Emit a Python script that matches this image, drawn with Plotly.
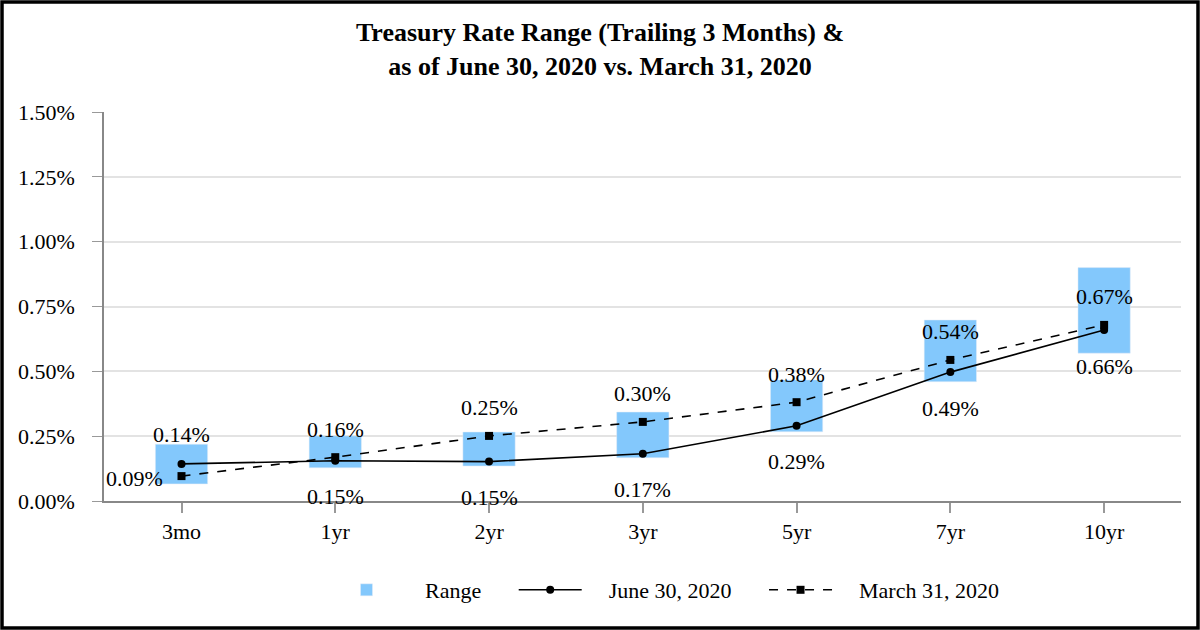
import plotly.graph_objects as go

tenors = ["3mo", "1yr", "2yr", "3yr", "5yr", "7yr", "10yr"]
range_low = [0.066, 0.128, 0.135, 0.167, 0.267, 0.460, 0.570]
range_high = [0.219, 0.251, 0.266, 0.343, 0.467, 0.698, 0.900]
june_2020 = [0.143, 0.155, 0.152, 0.182, 0.290, 0.497, 0.659]
march_2020 = [0.096, 0.169, 0.251, 0.305, 0.381, 0.544, 0.679]
june_labels = ["0.14%", "0.15%", "0.15%", "0.17%", "0.29%", "0.49%", "0.66%"]
march_labels = ["0.09%", "0.16%", "0.25%", "0.30%", "0.38%", "0.54%", "0.67%"]

FONT = "Liberation Serif, Times New Roman, serif"
W, H = 1200, 630
L, R, T, B = 104, 19, 112, 129
pw, ph = W - L - R, H - T - B
sp = "\u00a0"  # non-breaking spaces to pad the legend like the original

fig = go.Figure()
fig.add_trace(go.Bar(
    x=tenors, y=[h - l for h, l in zip(range_high, range_low)], base=range_low,
    name=sp * 4 + "Range" + sp * 5, marker_color="#83c8fc", width=0.34,
))
fig.add_trace(go.Scatter(
    x=tenors, y=june_2020, name=sp * 4 + "June 30, 2020" + sp * 5, mode="lines+markers",
    line=dict(color="black", width=1.6), marker=dict(symbol="circle", size=8),
))
fig.add_trace(go.Scatter(
    x=tenors, y=march_2020, name=sp * 4 + "March 31, 2020", mode="lines+markers",
    line=dict(color="black", width=1.6, dash="dash"), marker=dict(symbol="square", size=8),
))

# data labels: March above, June below (3mo is the odd one out)
for i, t in enumerate(tenors):
    if i == 0:
        fig.add_annotation(x=t, y=june_2020[i], text=june_labels[i], showarrow=False, yshift=29)
        fig.add_annotation(x=t, y=march_2020[i], text=march_labels[i], showarrow=False, xshift=-47, yshift=-2)
    else:
        fig.add_annotation(x=t, y=march_2020[i], text=march_labels[i], showarrow=False, yshift=28)
        fig.add_annotation(x=t, y=june_2020[i], text=june_labels[i], showarrow=False, yshift=-36)

# outer frame
fig.add_shape(type="rect", xref="paper", yref="paper",
              x0=-(L - 2) / pw, x1=1 + (R - 2) / pw, y0=-(B - 2) / ph, y1=1 + (T - 2) / ph,
              line=dict(color="black", width=3.5))

fig.update_layout(
    width=W, height=H,
    margin=dict(l=L, r=R, t=T, b=B),
    paper_bgcolor="white", plot_bgcolor="white",
    font=dict(family=FONT, size=22, color="black"),
    title=dict(text="<b>Treasury Rate Range (Trailing 3 Months) &<br>as of June 30, 2020 vs. March 31, 2020</b>",
               x=0.5, xanchor="center", y=0.935, yanchor="middle", font=dict(size=26)),
    legend=dict(orientation="h", x=(330 - L) / pw, xanchor="left", y=-(590 - 501) / ph, yanchor="middle",
                font=dict(size=22), itemwidth=63, tracegroupgap=0),
    showlegend=True,
)
fig.update_xaxes(showline=True, linecolor="#888888", linewidth=2, ticks="outside",
                 ticklen=10, tickcolor="#999999", tickwidth=1.5, showgrid=False)
fig.update_yaxes(range=[0, 1.5], dtick=0.25, tickformat=".2f", ticksuffix="%",
                 showline=True, linecolor="#888888", linewidth=1.5, ticks="outside",
                 ticklen=10, tickcolor="#999999", showgrid=True, gridcolor="#e3e3e3",
                 gridwidth=1.5, zeroline=False, ticklabelstandoff=13)

fig.write_html("out.html", config={"displayModeBar": False},
               post_script="document.body.style.margin='0';")
